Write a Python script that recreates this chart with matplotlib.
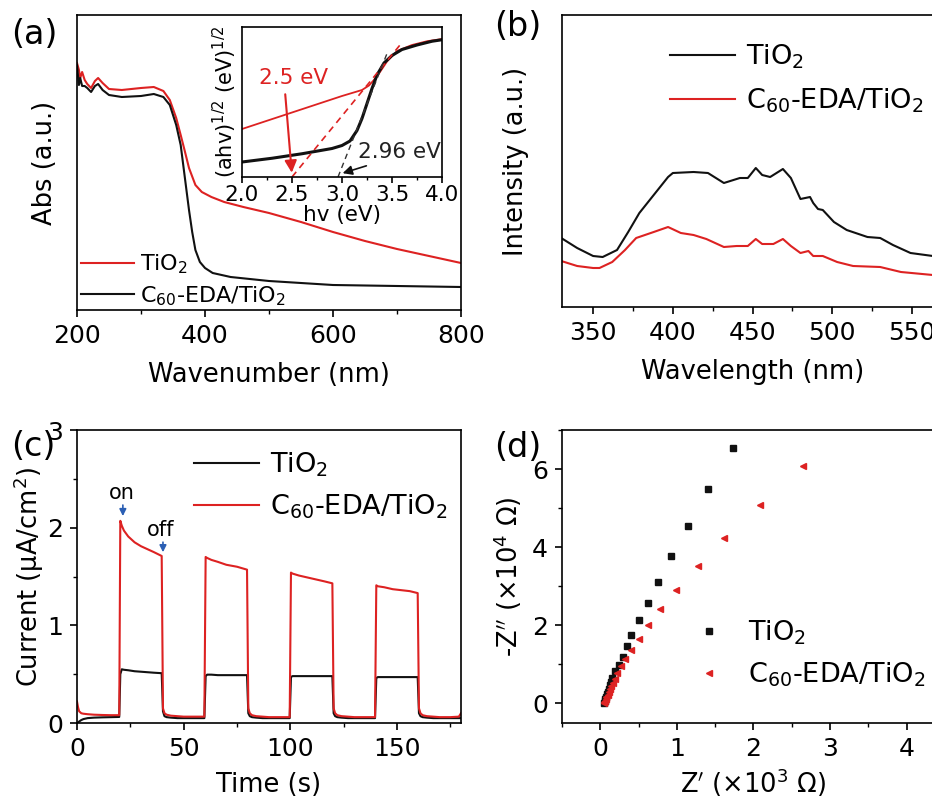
import matplotlib
matplotlib.use("Agg")
import matplotlib.pyplot as plt
from matplotlib.ticker import MultipleLocator

plt.rcParams["font.family"] = ["DejaVu Sans"]
plt.rcParams["mathtext.fontset"] = "dejavusans"
plt.rcParams["axes.linewidth"] = 1.2
plt.rcParams["xtick.major.width"] = 1.2
plt.rcParams["ytick.major.width"] = 1.2
plt.rcParams["xtick.minor.width"] = 1.0
plt.rcParams["ytick.minor.width"] = 1.0

RED = "#dd2222"
BLK = "#111111"
TIO2 = "TiO$_2$"
C60 = "C$_{60}$-EDA/TiO$_2$"

# (a) UV-vis absorption
abs_wl = [200, 203, 205, 208, 212, 216, 222, 228, 233, 240, 250, 270, 300, 320, 335, 345,
          355, 362, 368, 375, 385, 395, 410, 430, 460, 500, 550, 600, 650, 700, 750, 800]
abs_red = [2.47, 2.40, 2.32, 2.38, 2.30, 2.26, 2.22, 2.29, 2.32, 2.27, 2.21, 2.20, 2.22, 2.23, 2.19, 2.10,
           1.92, 1.75, 1.60, 1.42, 1.25, 1.18, 1.13, 1.08, 1.03, 0.97, 0.88, 0.78, 0.69, 0.61, 0.54, 0.47]
abs_wl_k = [200, 203, 205, 208, 212, 216, 222, 228, 233, 240, 250, 270, 300, 320, 335, 345, 355, 362,
            366, 370, 375, 380, 385, 392, 400, 412, 440, 500, 600, 700, 800]
abs_blk = [2.45, 2.25, 2.32, 2.24, 2.24, 2.22, 2.18, 2.24, 2.26, 2.20, 2.15, 2.13, 2.14, 2.16, 2.13, 2.05,
           1.85, 1.65, 1.45, 1.25, 1.00, 0.78, 0.60, 0.48, 0.42, 0.37, 0.33, 0.29, 0.25, 0.24, 0.23]

# (a) inset Tauc plot
tauc_ev_r = [2.0, 2.5, 3.0, 3.2, 3.27, 3.35, 3.45, 3.55, 3.7, 3.85, 4.0]
tauc_red = [0.32, 0.43, 0.54, 0.58, 0.61, 0.67, 0.77, 0.84, 0.88, 0.905, 0.92]
tauc_ev_k = [2.0, 2.3, 2.6, 2.9, 3.0, 3.08, 3.15, 3.2, 3.25, 3.3, 3.35, 3.42, 3.5, 3.6, 3.75, 3.9, 4.0]
tauc_blk = [0.10, 0.125, 0.155, 0.19, 0.21, 0.24, 0.31, 0.39, 0.49, 0.59, 0.68, 0.76, 0.81, 0.85, 0.88, 0.905, 0.915]
fit_red_x = [2.5, 3.58]
fit_red_y = [0.0, 0.88]
fit_blk_x = [2.96, 3.46]
fit_blk_y = [0.0, 0.84]

# (b) PL spectra
pl_wl_k = [330, 340, 350, 356, 365, 372, 379, 386, 392, 397, 400, 413, 422, 427, 432, 438, 442, 447, 452,
           456, 461, 465, 469, 474, 480, 483, 486, 488, 491, 494, 501, 509, 522, 530, 538, 549, 563]
pl_blk = [0.69, 0.59, 0.51, 0.50, 0.57, 0.75, 0.94, 1.08, 1.20, 1.30, 1.34, 1.35, 1.34, 1.29, 1.24, 1.27, 1.29,
          1.29, 1.39, 1.32, 1.30, 1.34, 1.38, 1.29, 1.08, 1.09, 1.10, 1.04, 0.98, 0.97, 0.85, 0.77, 0.70, 0.69,
          0.62, 0.54, 0.51]
pl_wl_r = [330, 340, 350, 354, 362, 370, 377, 388, 397, 405, 413, 421, 432, 440, 447, 452, 456, 463, 469,
           474, 480, 485, 488, 494, 503, 513, 530, 543, 563]
pl_red = [0.46, 0.41, 0.39, 0.39, 0.45, 0.57, 0.69, 0.75, 0.80, 0.74, 0.72, 0.68, 0.60, 0.61, 0.61, 0.68, 0.63,
          0.63, 0.68, 0.61, 0.54, 0.56, 0.51, 0.51, 0.45, 0.41, 0.40, 0.35, 0.32]

# (c) transient photocurrent
t_s = [0, 0.5, 1, 2, 3, 5, 8, 12, 16, 19.8,
       20.3, 21, 22, 24, 27, 30, 33, 36, 39.7,
       40.3, 41, 42, 44, 47, 50, 55, 59.7,
       60.3, 61, 63, 66, 70, 75, 79.7,
       80.3, 81, 82, 84, 87, 90, 95, 99.7,
       100.3, 101, 104, 108, 112, 116, 119.7,
       120.3, 121, 122, 124, 127, 130, 135, 139.7,
       140.3, 141, 144, 148, 152, 156, 159.7,
       160.3, 161, 162, 164, 167, 170, 175, 179, 180]
i_red = [0.22, 0.16, 0.12, 0.10, 0.095, 0.09, 0.085, 0.082, 0.08, 0.08,
         2.07, 2.02, 1.97, 1.91, 1.85, 1.81, 1.78, 1.75, 1.71,
         0.15, 0.10, 0.085, 0.075, 0.07, 0.065, 0.065, 0.065,
         1.70, 1.69, 1.67, 1.65, 1.62, 1.60, 1.57,
         0.15, 0.10, 0.08, 0.07, 0.065, 0.06, 0.06, 0.06,
         1.54, 1.53, 1.51, 1.49, 1.47, 1.45, 1.43,
         0.15, 0.10, 0.08, 0.07, 0.065, 0.06, 0.06, 0.06,
         1.41, 1.40, 1.39, 1.37, 1.36, 1.35, 1.33,
         0.15, 0.10, 0.08, 0.07, 0.065, 0.06, 0.06, 0.065, 0.10]
i_blk = [0.0, 0.005, 0.015, 0.03, 0.04, 0.05, 0.055, 0.058, 0.06, 0.062,
         0.50, 0.55, 0.545, 0.54, 0.53, 0.525, 0.52, 0.515, 0.51,
         0.12, 0.07, 0.06, 0.055, 0.05, 0.05, 0.05, 0.05,
         0.48, 0.495, 0.495, 0.49, 0.49, 0.49, 0.49,
         0.10, 0.07, 0.06, 0.055, 0.05, 0.05, 0.05, 0.05,
         0.47, 0.48, 0.48, 0.48, 0.48, 0.48, 0.48,
         0.10, 0.07, 0.06, 0.055, 0.05, 0.05, 0.05, 0.05,
         0.46, 0.47, 0.47, 0.47, 0.47, 0.47, 0.47,
         0.10, 0.07, 0.06, 0.055, 0.05, 0.05, 0.05, 0.05, 0.05]

# (d) Nyquist plots
zr_blk = [0.05, 0.055, 0.065, 0.075, 0.085, 0.095, 0.11, 0.125, 0.14, 0.157, 0.196, 0.24, 0.29, 0.343,
          0.404, 0.50, 0.617, 0.75, 0.926, 1.14, 1.40, 1.73]
zi_blk = [0.02, 0.06, 0.11, 0.17, 0.23, 0.30, 0.38, 0.46, 0.55, 0.645, 0.82, 0.99, 1.20, 1.46,
          1.76, 2.13, 2.58, 3.12, 3.77, 4.54, 5.48, 6.55]
zr_red = [0.045, 0.05, 0.06, 0.07, 0.08, 0.095, 0.11, 0.125, 0.145, 0.165, 0.19, 0.217, 0.27, 0.326,
          0.40, 0.50, 0.617, 0.78, 0.99, 1.27, 1.62, 2.08, 2.64]
zi_red = [0.0, 0.03, 0.07, 0.11, 0.16, 0.22, 0.29, 0.36, 0.44, 0.52, 0.62, 0.77, 0.95, 1.135,
          1.36, 1.65, 2.0, 2.41, 2.91, 3.51, 4.23, 5.09, 6.09]

W, H = 932, 805
fig = plt.figure(figsize=(W / 100, H / 100), dpi=100)


def box(l, t, r, b):
    return [l / W, 1 - b / H, (r - l) / W, (b - t) / H]


def style(ax, fs=18):
    ax.tick_params(which="both", direction="out", labelsize=fs, top=False, right=False)
    ax.tick_params(which="major", length=5, pad=5)
    ax.tick_params(which="minor", length=3)


# ---- (a)
ax = fig.add_axes(box(77, 15, 461, 310))
ax.plot(abs_wl, abs_red, color=RED, lw=1.5, label=TIO2)
ax.plot(abs_wl_k, abs_blk, color=BLK, lw=1.5, label=C60)
ax.set_xlim(200, 800)
ax.set_ylim(0, 2.95)
ax.xaxis.set_major_locator(MultipleLocator(200))
ax.xaxis.set_minor_locator(MultipleLocator(100))
ax.set_yticks([])
style(ax)
ax.set_xlabel("Wavenumber (nm)", fontsize=18.5, labelpad=10)
ax.set_ylabel("Abs (a.u.)", fontsize=18.5, labelpad=14)
ax.legend(loc="lower left", bbox_to_anchor=(-0.03, -0.045), frameon=False, fontsize=16,
          handlelength=2.4, handletextpad=0.25, labelspacing=0.35, borderpad=0.2)

ins = fig.add_axes(box(242, 27, 442, 177))
ins.plot(tauc_ev_r, tauc_red, color=RED, lw=1.3)
ins.plot(tauc_ev_k, tauc_blk, color=BLK, lw=2.2)
ins.plot(fit_red_x, fit_red_y, color=RED, lw=1.2, ls=(0, (4, 3)))
ins.plot(fit_blk_x, fit_blk_y, color="#333333", lw=1.0, ls=(0, (4, 3)))
ins.set_xlim(2.0, 4.0)
ins.set_ylim(0, 1)
ins.set_yticks([])
ins.xaxis.set_major_locator(MultipleLocator(0.5))
ins.xaxis.set_minor_locator(MultipleLocator(0.25))
ins.tick_params(which="both", direction="out", labelsize=15.5, pad=2)
ins.tick_params(which="major", length=4)
ins.tick_params(which="minor", length=2)
ins.set_xlabel("hv (eV)", fontsize=15.5, labelpad=0)
ins.set_ylabel("(ahv)$^{1/2}$ (eV)$^{1/2}$", fontsize=15, labelpad=2)
ins.annotate("", xy=(2.5, 0.01), xytext=(2.43, 0.57),
             arrowprops=dict(arrowstyle="-|>", color=RED, lw=1.5, mutation_scale=18))
ins.text(2.52, 0.66, "2.5 eV", color=RED, fontsize=15.5, ha="center", va="center")
ins.annotate("", xy=(2.98, 0.02), xytext=(3.27, 0.08),
             arrowprops=dict(arrowstyle="-|>", color=BLK, lw=1.2, mutation_scale=14))
ins.text(3.57, 0.17, "2.96 eV", color="#222222", fontsize=15.5, ha="center", va="center")

# ---- (b)
bx = fig.add_axes(box(562, 15, 944, 307))
bx.plot(pl_wl_k, pl_blk, color=BLK, lw=1.5, label=TIO2)
bx.plot(pl_wl_r, pl_red, color=RED, lw=1.5, label=C60)
bx.set_xlim(330.5, 570)
bx.set_ylim(0, 2.92)
bx.xaxis.set_major_locator(MultipleLocator(50))
bx.xaxis.set_minor_locator(MultipleLocator(25))
bx.set_yticks([])
style(bx)
bx.set_xlabel("Wavelength (nm)", fontsize=18.5, labelpad=10)
bx.set_ylabel("Intensity (a.u.)", fontsize=18.5, labelpad=24)
bx.legend(loc="upper left", bbox_to_anchor=(0.234, 0.97), frameon=False, fontsize=19.5,
          handlelength=2.4, handletextpad=0.4, labelspacing=0.55, borderpad=0.2)

# ---- (c)
cx = fig.add_axes(box(77, 430, 461, 723))
cx.plot(t_s, i_blk, color=BLK, lw=1.5, label=TIO2)
cx.plot(t_s, i_red, color=RED, lw=1.5, label=C60)
cx.set_xlim(0, 180)
cx.set_ylim(0, 3)
cx.xaxis.set_major_locator(MultipleLocator(50))
cx.xaxis.set_minor_locator(MultipleLocator(25))
cx.yaxis.set_major_locator(MultipleLocator(1))
cx.yaxis.set_minor_locator(MultipleLocator(0.5))
style(cx)
cx.set_xlabel("Time (s)", fontsize=18.5, labelpad=8)
cx.set_ylabel("Current (μA/cm$^2$)", fontsize=18.5, labelpad=1)
cx.legend(loc="upper left", bbox_to_anchor=(0.256, 0.994), frameon=False, fontsize=19.5,
          handlelength=2.4, handletextpad=0.4, labelspacing=0.5, borderpad=0.2)
BLUE = "#2b5fb4"
cx.annotate("", xy=(21.5, 2.09), xytext=(21.5, 2.26),
            arrowprops=dict(arrowstyle="-|>", color=BLUE, lw=1.2, mutation_scale=10))
cx.text(21.0, 2.36, "on", fontsize=15, ha="center", va="center")
cx.annotate("", xy=(40.3, 1.72), xytext=(40.3, 1.88),
            arrowprops=dict(arrowstyle="-|>", color=BLUE, lw=1.2, mutation_scale=10))
cx.text(39.3, 1.98, "off", fontsize=15, ha="center", va="center")

# ---- (d)
dx = fig.add_axes(box(562, 430, 945, 723))
dx.plot(zr_blk, zi_blk, "s", color=BLK, ms=4.5, ls="none", label=TIO2)
dx.plot(zr_red, zi_red, "<", color=RED, ms=5, ls="none", label=C60)
dx.set_xlim(-0.5, 4.5)
dx.set_ylim(-0.5, 7.0)
dx.xaxis.set_major_locator(MultipleLocator(1))
dx.xaxis.set_minor_locator(MultipleLocator(0.5))
dx.yaxis.set_major_locator(MultipleLocator(2))
dx.yaxis.set_minor_locator(MultipleLocator(1))
style(dx)
dx.set_xlabel("Z$^{\\prime}$ (×10$^3$ Ω)", fontsize=18.5, labelpad=4)
dx.set_ylabel("-Z$^{\\prime\\prime}$ (×10$^4$ Ω)", fontsize=18.5, labelpad=6)
dx.legend(loc="upper left", bbox_to_anchor=(0.28, 0.42), frameon=False, fontsize=19.5,
          handlelength=1.5, handletextpad=0.7, labelspacing=0.5, borderpad=0.2)

for lab, x, y in [("(a)", 34, 35), ("(b)", 518, 27), ("(c)", 33, 446), ("(d)", 518, 447)]:
    fig.text(x / W, 1 - y / H, lab, fontsize=24, ha="center", va="center")

fig.savefig("out.png", dpi=100)
